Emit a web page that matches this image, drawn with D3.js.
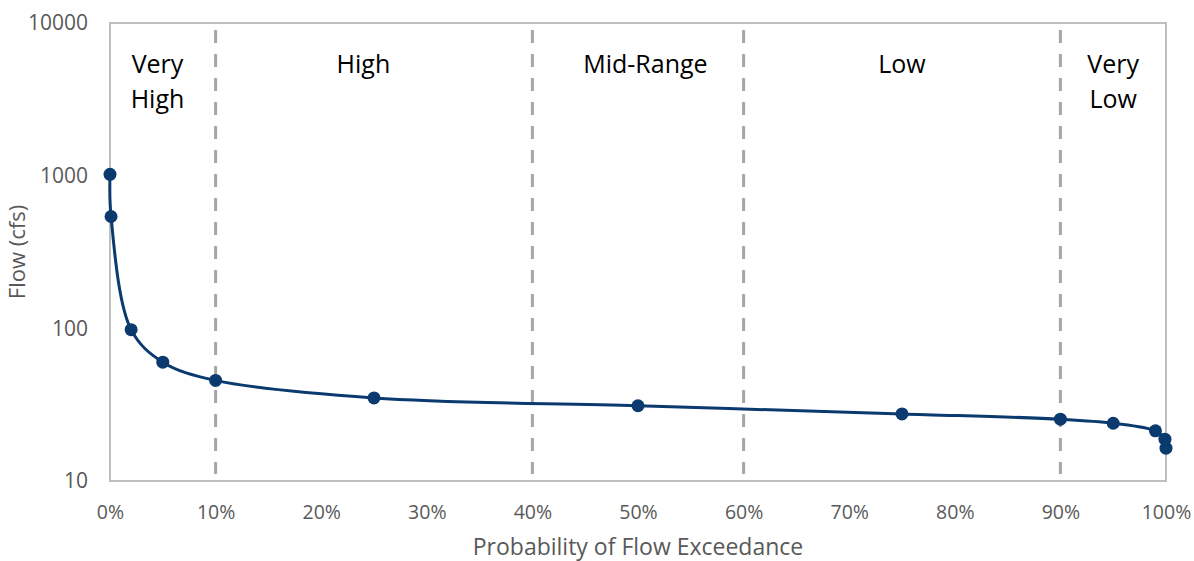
<!DOCTYPE html>
<html><head><meta charset="utf-8">
<script src="https://cdn.jsdelivr.net/npm/d3@7"></script>
<style>body{margin:0;background:#fff;} svg{display:block;font-family:"Open Sans","Lato",sans-serif;}</style>
</head><body>
<svg id="c" width="1194" height="561"></svg>
<script>
const exceedance = [0, 0.1, 2, 5, 10, 25, 50, 75, 90, 95, 99, 99.9, 100];
const flow = [1020, 540, 98, 60, 45.6, 35.0, 31.1, 27.5, 25.4, 23.9, 21.3, 18.8, 16.4];
const dividers = [10, 40, 60, 90];
const regionNames = [["Very", "High"], ["High"], ["Mid-Range"], ["Low"], ["Very", "Low"]];
const regionPos = [4.5, 24, 50.7, 75, 95];
const yTicks = [10, 100, 1000, 10000];
const xTicks = [0, 10, 20, 30, 40, 50, 60, 70, 80, 90, 100];

const svg = d3.select("#c");
const L = 110, R = 1166, T = 23, B = 481;
const x = d3.scaleLinear().domain([0, 100]).range([L, R]);
const y = d3.scaleLog().domain([10, 10000]).range([B, T]);

// plot border
svg.append("rect").attr("x", L).attr("y", T).attr("width", R - L).attr("height", B - T)
  .attr("fill", "none").attr("stroke", "#bfbfbf").attr("stroke-width", 2);

// dividers
svg.selectAll(".div").data(dividers).join("line")
  .attr("x1", d => x(d)).attr("x2", d => x(d)).attr("y1", T + 7).attr("y2", B - 7)
  .attr("stroke", "#a6a6a6").attr("stroke-width", 3).attr("stroke-dasharray", "13,11");

// region labels
regionNames.forEach((lines, i) => {
  const t = svg.append("text").attr("x", x(regionPos[i])).attr("y", 73)
    .attr("text-anchor", "middle").attr("font-size", 25).attr("fill", "#000");
  lines.forEach((s, j) => t.append("tspan").attr("x", x(regionPos[i])).attr("dy", j ? 35 : 0).text(s));
});

// axes
const yAxis = d3.axisLeft(y).tickValues(yTicks).tickFormat(d3.format("d")).tickSize(0).tickPadding(22);
const gy = svg.append("g").attr("transform", `translate(${L},0)`).call(yAxis);
gy.select(".domain").remove();
gy.selectAll("text").attr("font-size", 21).attr("fill", "#595959").attr("font-family", "Open Sans");

const xAxis = d3.axisBottom(x).tickValues(xTicks).tickFormat(d => d + "%").tickSize(0).tickPadding(24);
const gx = svg.append("g").attr("transform", `translate(0,${B})`).call(xAxis);
gx.select(".domain").remove();
gx.selectAll("text").attr("font-size", 19.5).attr("fill", "#595959").attr("font-family", "Open Sans");

svg.append("text").attr("transform", `translate(25,${(T + B) / 2}) rotate(-90)`)
  .attr("text-anchor", "middle").attr("font-size", 22).attr("fill", "#595959").text("Flow (cfs)");
svg.append("text").attr("x", 638).attr("y", 555).attr("text-anchor", "middle")
  .attr("font-size", 23).attr("fill", "#595959").text("Probability of Flow Exceedance");

// line
const pts = exceedance.map((e, i) => [e, flow[i]]);
const line = d3.line().x(d => x(d[0])).y(d => y(d[1])).curve(d3.curveCatmullRom.alpha(0.5));
svg.append("path").datum(pts).attr("d", line).attr("fill", "none")
  .attr("stroke", "#0b3a6e").attr("stroke-width", 3);
svg.selectAll(".pt").data(pts).join("circle")
  .attr("cx", d => x(d[0])).attr("cy", d => y(d[1])).attr("r", 6.5).attr("fill", "#0b3a6e");
</script>
</body></html>
